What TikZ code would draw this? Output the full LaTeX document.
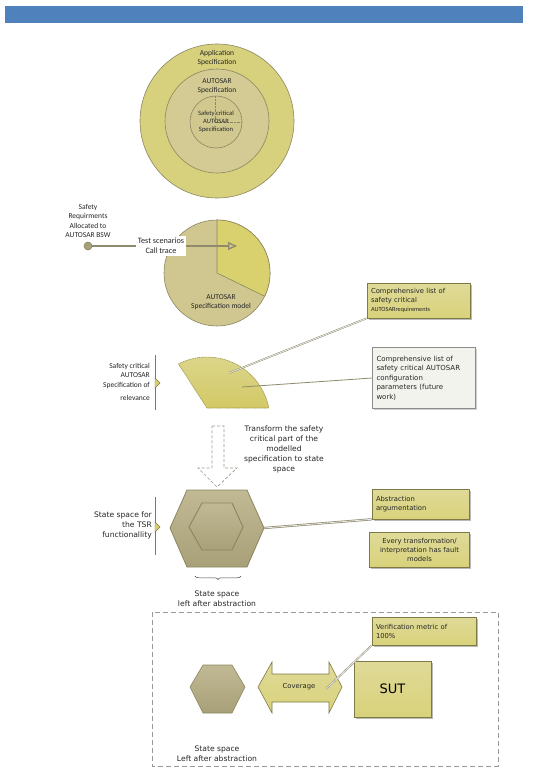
\documentclass[tikz,border=0pt]{standalone}
\usepackage{fontspec}
\setmainfont{Carlito}
\newfontfamily\vf{DejaVu Sans}
\usetikzlibrary{arrows.meta,decorations.pathreplacing,shadows}
\definecolor{barblue}{HTML}{4F81BD}
\definecolor{outerc}{HTML}{D7D07C}
\definecolor{midc}{HTML}{D3CB93}
\definecolor{innc}{HTML}{D1C890}
\definecolor{edgec}{HTML}{8C8760}
\definecolor{pieg}{HTML}{CFC690}
\definecolor{piey}{HTML}{D9D06E}
\definecolor{secy}{HTML}{D3C966}
\definecolor{secytop}{HTML}{DCD68C}
\definecolor{secedge}{HTML}{9E9650}
\definecolor{boxy}{HTML}{D9D27B}
\definecolor{boxytop}{HTML}{DFDA98}
\definecolor{boxedge}{HTML}{7F7A45}
\definecolor{hextop}{HTML}{C0B994}
\definecolor{hexbot}{HTML}{A7A078}
\definecolor{hexedge}{HTML}{8B865F}
\definecolor{linec}{HTML}{8E8A6C}
\definecolor{grayboxc}{HTML}{F3F3EE}
\definecolor{frameline}{HTML}{9A9A90}
\begin{document}
\begin{tikzpicture}[x=1pt,y=-1pt,
  cal/.style={font=\fontsize{7.5}{9.5}\selectfont, text=black!85, inner sep=0pt},
  calsmall/.style={font=\fontsize{6.6}{8}\selectfont, text=black!85, inner sep=0pt},
  ver/.style={font=\vf\fontsize{7.6}{10}\selectfont, text=black!85, inner sep=0pt},
  ybox/.style={draw=boxedge, line width=0.6pt, top color=boxytop, bottom color=boxy,
     drop shadow={shadow xshift=1.5pt, shadow yshift=-1.5pt, fill=black!45, opacity=0.6},
     inner sep=4pt, font=\vf\fontsize{6.8}{9}\selectfont, text=black!85},
  gbox/.style={draw=black!45, line width=0.6pt, fill=grayboxc,
     drop shadow={shadow xshift=1.2pt, shadow yshift=-1.2pt, fill=black!30, opacity=0.6},
     inner sep=4pt, font=\vf\fontsize{7}{9.5}\selectfont, text=black!85},
  callout/.style={draw=linec, double=black!8, double distance=0.8pt, line width=0.45pt},
  thinline/.style={draw=linec, line width=0.8pt},
  hexshape/.style={draw=hexedge, line width=0.8pt, top color=hextop, bottom color=hexbot},
  bracketline/.style={draw=hexedge!90!black, line width=0.9pt},
  brtri/.style={draw=boxedge, fill=piey, line width=0.4pt}
]
\path[use as bounding box, fill=white] (0,0) rectangle (535,774);

% top bar
\fill[barblue] (5,6) rectangle (523,23);

% concentric circles
\coordinate (cc) at (217,121);
\draw[edgec, fill=outerc, line width=0.6pt] (cc) circle[radius=77];
\draw[edgec, fill=midc, line width=0.6pt] (cc) circle[radius=52];
\draw[edgec, fill=innc, line width=0.6pt] (216,122) circle[radius=26];
\draw[edgec, line width=0.4pt, densely dotted] (215,96) -- (215,122) -- (242,122);
\node[cal, align=center] (apptxt) at (217,58) {Application\\Specification};
\node[cal, align=center] (autotxt) at (217,86) {AUTOSAR\\Specification};
\node[calsmall, align=center] (sctxt) at (216,122) {Safety critical\\AUTOSAR\\Specification};

% pie
\coordinate (pc) at (217,273);
\draw[edgec, fill=pieg, line width=0.6pt] (pc) circle[radius=53];
\draw[edgec, fill=piey, line width=0.6pt] (217,273) -- (217,220) arc[start angle=-90, end angle=26, radius=53] -- cycle;
\node[cal, align=center] (asmtxt) at (221,302) {AUTOSAR\\Specification model};

% requirement dot and arrow
\node[circle, fill=hexbot, draw=hexedge, line width=0.6pt, minimum size=8pt, inner sep=0pt] (dot) at (88,246) {};
\node[cal, align=center] (reqtxt) at (88,221) {Safety\\Requirments\\Allocated to\\AUTOSAR BSW};
\coordinate (tip) at (237,246);
\draw[linec, line width=1.3pt, -{Triangle[length=9pt, width=8pt, fill=pieg]}] (dot) -- (tip);
\node[cal, fill=white, align=center, inner sep=2pt, font=\fontsize{8.2}{10}\selectfont] (tsl) at (161,246) {Test scenarios\\Call trace};

% sector
\draw[secedge, top color=secytop, bottom color=secy, line width=0.6pt, dash pattern=on 1.2pt off 0.6pt]
  (207,408) -- (178.4,363.9) arc[start angle=-117, end angle=-11, radius=63] -- cycle;
\draw[bracketline] (155,355) -- (155,410);
\draw[brtri] (155,378) -- (160,383) -- (155,388) -- cycle;
\node[cal, align=right, anchor=east] (sctxt2) at (150,382) {Safety critical\\AUTOSAR\\Specification of\\[4pt]relevance};

% boxes for sector
\node[ybox, minimum width=103pt, minimum height=35pt, text width=95pt, align=left] (b1) at (418.5,300.5)
  {Comprehensive list of\\safety critical\\{\rmfamily\fontsize{6.3}{8}\selectfont AUTOSARrequirements}};
\node[gbox, minimum width=102pt, minimum height=61pt, text width=95pt, align=left] (b2) at (424,378)
  {Comprehensive list of\\safety critical AUTOSAR\\configuration\\parameters (future\\work)};
\coordinate (s1) at (229,373);
\coordinate (s2) at (242,387);
\draw[callout] (s1) -- (b1.south west);
\draw[thinline] (s2) -- (b2.west);

% dashed transform arrow
\draw[frameline, line width=0.7pt, dash pattern=on 3pt off 2pt, fill=white]
  (212,426) -- (224,426) -- (224,468) -- (237,468) -- (217,487) -- (198,468) -- (212,468) -- cycle;
\node[ver, align=center] (trtxt) at (284,449) {Transform the safety\\critical part of the\\modelled\\specification to state\\space};

% big hexagon
\draw[hexshape] (170,528) -- (187,490) -- (247,490) -- (264,528) -- (247,567) -- (187,567) -- cycle;
\draw[hexshape, line width=0.9pt] (189,527) -- (202,503) -- (232,503) -- (243,527) -- (232,550) -- (202,550) -- cycle;
\coordinate (hexR) at (264,528);
\draw[bracketline] (155,497) -- (155,555);
\draw[brtri] (155,522) -- (160,527) -- (155,532) -- cycle;
\node[ver, align=right, anchor=east] (sstxt) at (152,525) {State space for\\the TSR\\functionallity};
\draw[black!75, line width=0.5pt, decorate, decoration={brace, mirror, amplitude=3.5pt}] (195,576) -- (241,576);
\node[ver, align=center] (lefttxt) at (217,599) {State space\\left after abstraction};

\node[ybox, minimum width=97pt, minimum height=30pt, text width=89pt, align=left] (b3) at (420.5,504)
  {Abstraction\\argumentation};
\node[ybox, minimum width=97pt, minimum height=35pt, text width=92pt, align=center] (b4) at (419.5,549.5)
  {Every transformation/\\interpretation has fault\\models};
\draw[callout, line width=0.7pt] (hexR) -- (b3.south west);

% dashed frame
\draw[frameline, line width=0.8pt, dash pattern=on 5pt off 3pt] (152,612) rectangle (498,766);

% small hexagon
\draw[hexshape, line width=0.6pt] (190,687) -- (203,665) -- (232,665) -- (245,687) -- (232,713) -- (203,713) -- cycle;
\node[ver, align=center] (left2txt) at (217,754) {State space\\Left after abstraction};

% double arrow
\draw[draw=boxedge, line width=0.6pt, top color=boxytop, bottom color=boxy]
  (258,687) -- (272,662) -- (272,674) -- (329,674) -- (329,662) -- (342,687) -- (329,713) -- (329,702) -- (272,702) -- (272,713) -- cycle;
\node[ver, font=\vf\fontsize{6.8}{8}\selectfont] (cov) at (299,687) {Coverage};

% SUT and verification
\node[ybox, minimum width=77pt, minimum height=56pt, font=\vf\fontsize{13}{15}\selectfont, text=black] (sut) at (392.5,689) {SUT};
\node[ybox, minimum width=104pt, minimum height=28pt, text width=96pt, align=left, font=\vf\fontsize{6.8}{9}\selectfont] (vb) at (424,631)
  {Verification metric of\\100\%};
\coordinate (cv) at (326,689);
\draw[callout] (cv) -- (vb.south west);
\end{tikzpicture}
\end{document}
